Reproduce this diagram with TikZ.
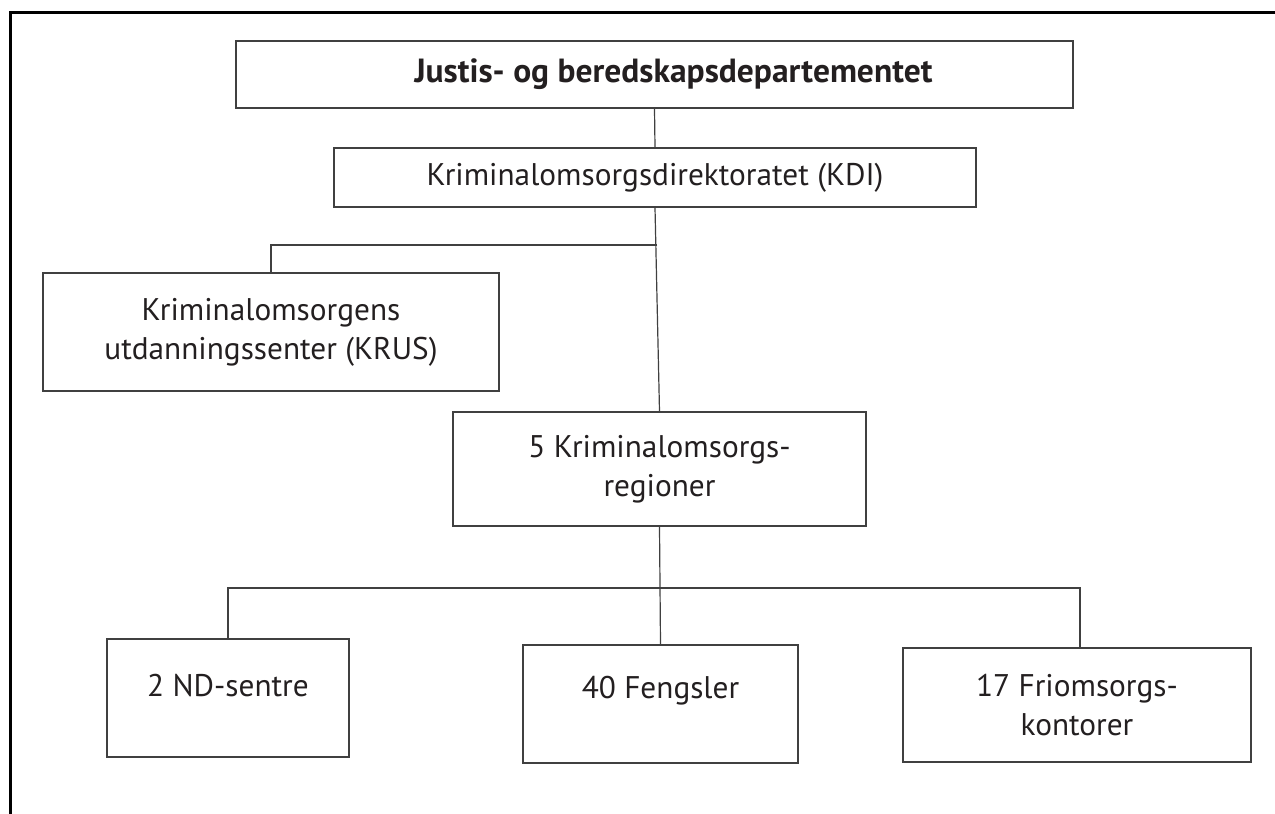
\documentclass[tikz,border=0pt]{standalone}
\usepackage{fontspec}
\setmainfont{PT Sans}
\definecolor{txt}{HTML}{231F20}
\definecolor{ln}{HTML}{404040}
\tikzset{
  orgbox/.style={draw=ln, line width=1.3pt, rectangle, align=center, text=txt, inner sep=0pt, font=\fontsize{31.3}{39}\selectfont},
  conn/.style={draw=ln, line width=1.2pt},
  frameline/.style={draw=black, line width=3pt}
}
\begin{document}
\begin{tikzpicture}[x=1pt,y=-1pt]
\useasboundingbox (0,0) rectangle (1275,814);
\draw[frameline] (10,814) -- (10,12) -- (1275,12);
\node[orgbox, minimum width=837pt, minimum height=67pt, font=\fontsize{33.5}{40}\selectfont\bfseries] (jus) at (654.5,74.5) {\hspace*{38pt}Justis- og beredskapsdepartementet};
\node[orgbox, minimum width=642pt, minimum height=59pt] (kdi) at (655,177.5) {Kriminalomsorgsdirektoratet (KDI)};
\node[orgbox, minimum width=456pt, minimum height=118pt] (krus) at (271,332) {Kriminalomsorgens\\utdanningssenter (KRUS)};
\node[orgbox, minimum width=413pt, minimum height=114pt] (reg) at (659.5,469) {5 Kriminalomsorgs-\\regioner};
\node[orgbox, minimum width=242pt, minimum height=118pt, text depth=26pt] (nd) at (228,698) {2 ND-sentre};
\node[orgbox, minimum width=275pt, minimum height=118pt, text depth=34pt] (fen) at (660.5,704) {40 Fengsler};
\node[orgbox, minimum width=348pt, minimum height=114pt] (fri) at (1077,705) {17 Friomsorgs-\\kontorer};
\coordinate (k1) at (657,245);
\coordinate (b1) at (228,588);
\coordinate (b2) at (1080,588);
\coordinate (b3) at (1080,648);
\draw[conn] (jus.south) -- (kdi.north);
\draw[conn] (kdi.south) -- (reg.north);
\draw[conn] (k1) -| (krus.north);
\draw[conn] (reg.south) -- (fen.north);
\draw[conn] (nd.north) -- (b1) -- (b2) -- (b3);
\end{tikzpicture}
\end{document}
